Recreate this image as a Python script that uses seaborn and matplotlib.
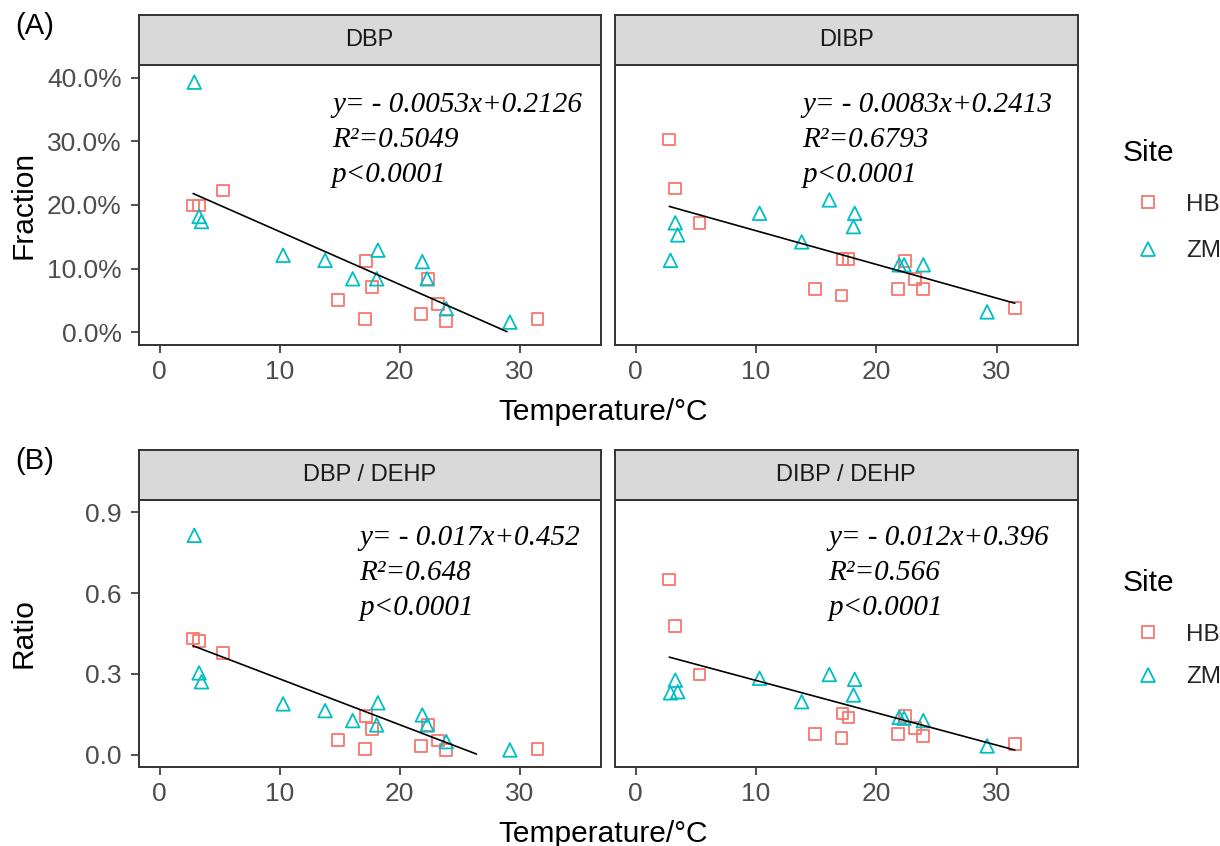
import numpy as np
import pandas as pd
import matplotlib
matplotlib.use("Agg")
import matplotlib.pyplot as plt
import seaborn as sns
from matplotlib.lines import Line2D
from matplotlib.ticker import FuncFormatter

# ---------------- data ----------------
sites = ["HB", "ZM"]
temp_hb = [2.8, 3.3, 5.3, 14.9, 17.1, 17.2, 17.7, 21.8, 22.4, 23.2, 23.9, 31.5]
temp_zm = [2.9, 3.3, 3.5, 10.3, 13.8, 16.1, 18.2, 18.1, 21.9, 22.3, 23.9, 29.2]

dbp_hb = [0.199, 0.199, 0.223, 0.051, 0.021, 0.112, 0.071, 0.029, 0.084, 0.044, 0.018, 0.021]
dbp_zm = [0.393, 0.182, 0.174, 0.121, 0.113, 0.084, 0.129, 0.084, 0.111, 0.084, 0.037, 0.016]

dibp_hb = [0.303, 0.226, 0.172, 0.068, 0.058, 0.115, 0.115, 0.068, 0.112, 0.084, 0.068, 0.038]
dibp_zm = [0.113, 0.172, 0.153, 0.187, 0.142, 0.208, 0.187, 0.166, 0.106, 0.106, 0.106, 0.032]

dbp_dehp_hb = [0.431, 0.423, 0.378, 0.055, 0.021, 0.144, 0.095, 0.033, 0.111, 0.053, 0.018, 0.021]
dbp_dehp_zm = [0.814, 0.304, 0.271, 0.189, 0.164, 0.127, 0.193, 0.111, 0.148, 0.111, 0.049, 0.018]

dibp_dehp_hb = [0.650, 0.478, 0.298, 0.078, 0.062, 0.154, 0.139, 0.078, 0.144, 0.099, 0.070, 0.041]
dibp_dehp_zm = [0.230, 0.277, 0.234, 0.284, 0.197, 0.298, 0.280, 0.222, 0.139, 0.136, 0.127, 0.033]

# fitted lines as drawn in each panel (slope, intercept)
fit_slope = [-0.0083, -0.0053, -0.017, -0.012]
fit_intercept = [0.2413, 0.2126, 0.452, 0.396]

panel_titles = ["DBP", "DIBP", "DBP / DEHP", "DIBP / DEHP"]
annotations = [
    ["y= - 0.0053x+0.2126", "R\u00b2=0.5049", "p<0.0001"],
    ["y= - 0.0083x+0.2413", "R\u00b2=0.6793", "p<0.0001"],
    ["y= - 0.017x+0.452", "R\u00b2=0.648", "p<0.0001"],
    ["y= - 0.012x+0.396", "R\u00b2=0.566", "p<0.0001"],
]
panel_tags = ["(A)", "(B)"]
row_ylabels = ["Fraction", "Ratio"]
xlabel = "Temperature/\u00b0C"
legend_title = "Site"
x_ticks = [0, 10, 20, 30]
y_ticks_top = [0.0, 0.1, 0.2, 0.3, 0.4]
y_ticks_bottom = [0.0, 0.3, 0.6, 0.9]

values = [(dbp_hb, dbp_zm), (dibp_hb, dibp_zm),
          (dbp_dehp_hb, dbp_dehp_zm), (dibp_dehp_hb, dibp_dehp_zm)]

frames = []
for title, (vh, vz) in zip(panel_titles, values):
    frames.append(pd.DataFrame({"Temperature": temp_hb, "Value": vh, "Site": "HB", "Panel": title}))
    frames.append(pd.DataFrame({"Temperature": temp_zm, "Value": vz, "Site": "ZM", "Panel": title}))
df = pd.concat(frames, ignore_index=True)

# ---------------- style ----------------
sns.set_theme(style="white")
plt.rcParams["font.family"] = ["Liberation Sans", "DejaVu Sans"]

colors = {"HB": "#F8766D", "ZM": "#00BFC4"}
markers = {"HB": "s", "ZM": "^"}
sizes = {"HB": 70, "ZM": 95}
GREY20 = "#333333"
GREY30 = "#4D4D4D"

W, H = 1220, 846
fig = plt.figure(figsize=(W / 100, H / 100), dpi=100)


def fx(px):
    return px / W


def fy(py):
    return 1 - py / H


# panel rectangles in pixels
rows = [(15, 65, 345), (450, 500, 767)]
cols = [(138.5, 600.5), (614.5, 1078)]

ylims = [(-0.02, 0.42), (-0.045, 0.945)]
yticks = [y_ticks_top, y_ticks_bottom]
ann_x = [0.419, 0.405, 0.478, 0.462]
legend_rows = [(153, 184, 1.0), (583, 614, 0.85)]

for r, (s_top, top, bottom) in enumerate(rows):
    for c, (left, right) in enumerate(cols):
        i = r * 2 + c
        title = panel_titles[i]
        ax = fig.add_axes([fx(left), fy(bottom), fx(right - left), (bottom - top) / H])
        sax = fig.add_axes([fx(left), fy(top), fx(right - left), (top - s_top) / H])
        sub = df[df["Panel"] == title]
        for site in sites:
            d = sub[sub["Site"] == site]
            sns.scatterplot(data=d, x="Temperature", y="Value", ax=ax,
                            marker=markers[site], s=sizes[site],
                            facecolors="none", edgecolor=colors[site],
                            linewidth=1.3, legend=False, zorder=3)
        # linear fit line, dropped where it leaves the y scale (< 0)
        xs = np.linspace(sub["Temperature"].min(), sub["Temperature"].max(), 80)
        ys = fit_slope[i] * xs + fit_intercept[i]
        m = ys >= 0
        sns.lineplot(x=xs[m], y=ys[m], ax=ax, color="black", lw=1.2, zorder=4)

        ax.set_xlim(-1.75, 36.75)
        ax.set_ylim(*ylims[r])
        ax.set_xticks(x_ticks)
        ax.set_yticks(yticks[r])
        if r == 0:
            ax.yaxis.set_major_formatter(FuncFormatter(lambda v, p: f"{v*100:.1f}%"))
        else:
            ax.yaxis.set_major_formatter(FuncFormatter(lambda v, p: f"{v:.1f}"))
        ax.tick_params(axis="both", length=6, width=1.2, color=GREY20,
                       labelsize=19, labelcolor=GREY30, pad=5, direction="out",
                       bottom=True, left=(c == 0), labelleft=(c == 0))
        ax.tick_params(axis="y", pad=6)
        ax.set_xlabel("")
        ax.set_ylabel("")
        for sp in ax.spines.values():
            sp.set_color(GREY20)
            sp.set_linewidth(1.4)
        ax.grid(False)
        ax.set_facecolor("white")

        ax.text(ann_x[i], 0.905, "\n".join(annotations[i]), transform=ax.transAxes,
                ha="left", va="top", fontsize=21, style="italic",
                family=["Liberation Serif", "DejaVu Serif"], linespacing=1.45,
                color="black")

        sax.set_facecolor("#D9D9D9")
        sax.set_xticks([])
        sax.set_yticks([])
        for sp in sax.spines.values():
            sp.set_color(GREY20)
            sp.set_linewidth(1.4)
        sax.text(0.5, 0.5, title, transform=sax.transAxes, ha="center",
                 va="center", fontsize=17, color="#1A1A1A")

    # row annotations
    fig.text(fx(15), fy((s_top + top) / 2 - 14), panel_tags[r], fontsize=21,
             ha="left", va="center", color="black")
    fig.text(fx(24), fy((top + bottom) / 2), row_ylabels[r], fontsize=21.5,
             rotation=90, ha="center", va="center", color="black")
    fig.text(fx(603), fy(bottom + 67), xlabel, fontsize=21.5, ha="center",
             va="center", color="black")

    title_y, anchor_y, spacing = legend_rows[r]
    fig.text(fx(1123), fy(title_y), legend_title, fontsize=21.5, ha="left",
             va="center", color="black")
    handles = [Line2D([0], [0], marker=markers[s], linestyle="none",
                      markerfacecolor="none", markeredgecolor=colors[s],
                      markersize=(8.5 if s == "HB" else 10.5), markeredgewidth=1.3)
               for s in sites]
    fig.legend(handles, sites, loc="upper left",
               bbox_to_anchor=(fx(1113.5), fy(anchor_y)),
               frameon=False, fontsize=17.5, handletextpad=0.6,
               labelspacing=spacing, handlelength=2.0, borderaxespad=0)

fig.savefig("out.png", dpi=100)
